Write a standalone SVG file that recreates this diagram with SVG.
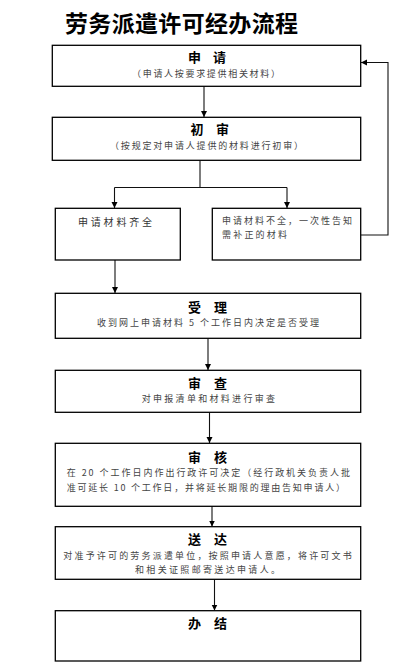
<svg xmlns="http://www.w3.org/2000/svg" width="407" height="671" viewBox="0 0 407 671">
<style>
.box{fill:#fff;stroke:#000;stroke-width:1.3}
.t{font-family:"Noto Sans CJK SC","Noto Sans",sans-serif;font-size:13px;font-weight:bold;fill:#000}
.s{font-family:"Noto Sans CJK SC","Noto Sans",sans-serif;font-size:9px;fill:#444}
.m{font-family:"Noto Sans CJK SC","Noto Sans",sans-serif;font-size:10px;fill:#333}
.ln{fill:none;stroke:#111;stroke-width:1.1}
</style>
<defs>
<marker id="ah" viewBox="0 0 10 10" refX="10" refY="5" markerWidth="6" markerHeight="7" markerUnits="userSpaceOnUse" orient="auto">
<path d="M0,0 L10,5 L0,10 z" fill="#000"/>
</marker>
</defs>
<rect width="407" height="671" fill="#fff"/>
<text x="65" y="32" textLength="233" lengthAdjust="spacing" style="font-family:'Noto Sans CJK SC',sans-serif;font-size:23px;font-weight:bold;fill:#000">劳务派遣许可经办流程</text>

<g id="connectors">
<line class="ln" x1="204" y1="86" x2="204" y2="117" marker-end="url(#ah)"/>
<polyline class="ln" points="200,160.5 200,187.5"/>
<polyline class="ln" points="114.5,187.5 287,187.5"/>
<line class="ln" x1="114.5" y1="187.5" x2="114.5" y2="208" marker-end="url(#ah)"/>
<line class="ln" x1="287" y1="187.5" x2="287" y2="208" marker-end="url(#ah)"/>
<line class="ln" x1="115" y1="260" x2="115" y2="293" marker-end="url(#ah)"/>
<polyline class="ln" points="361,235 388,235 388,62.5 361,62.5" marker-end="url(#ah)"/>
<line class="ln" x1="208" y1="338.5" x2="208" y2="370" marker-end="url(#ah)"/>
<line class="ln" x1="209.5" y1="412.5" x2="209.5" y2="443" marker-end="url(#ah)"/>
<line class="ln" x1="212" y1="495" x2="212" y2="526.5" marker-end="url(#ah)"/>
<line class="ln" x1="214.5" y1="579.5" x2="214.5" y2="610.5" marker-end="url(#ah)"/>
</g>

<g id="n1">
<rect class="box" x="52.3" y="45.3" width="308.4" height="41"/>
<text class="t" x="188" y="62" textLength="38" lengthAdjust="spacing">申 请</text>
<text class="s" x="132" y="76.5" textLength="148" lengthAdjust="spacing">（申请人按要求提供相关材料）</text>
</g>

<g id="n2">
<rect class="box" x="52.3" y="117.3" width="308.4" height="43"/>
<text class="t" x="190.5" y="133.5" textLength="38.5" lengthAdjust="spacing">初 审</text>
<text class="s" x="110" y="149" textLength="193" lengthAdjust="spacing">（按规定对申请人提供的材料进行初审）</text>
</g>

<g id="n3">
<rect class="box" x="55.3" y="208.3" width="125" height="51.7"/>
<text class="m" x="78" y="225.5" textLength="74" lengthAdjust="spacing">申请材料齐全</text>
</g>

<g id="n4">
<rect class="box" x="212.3" y="208.3" width="148.4" height="51.7"/>
<text class="s" x="222" y="224" textLength="130" lengthAdjust="spacing">申请材料不全，一次性告知</text>
<text class="s" x="222" y="237.5" textLength="65" lengthAdjust="spacing">需补正的材料</text>
</g>

<g id="n5">
<rect class="box" x="55.3" y="293.3" width="305.4" height="45"/>
<text class="t" x="188" y="311.5" textLength="39" lengthAdjust="spacing">受 理</text>
<text class="s" x="97" y="325.5" textLength="222" lengthAdjust="spacing">收到网上申请材料 5 个工作日内决定是否受理</text>
</g>

<g id="n6">
<rect class="box" x="55.3" y="370.3" width="305.4" height="42"/>
<text class="t" x="188" y="388" textLength="39" lengthAdjust="spacing">审 查</text>
<text class="s" x="141.7" y="402" textLength="133.3" lengthAdjust="spacing">对申报清单和材料进行审查</text>
</g>

<g id="n7">
<rect class="box" x="55.3" y="443.3" width="305.4" height="63"/>
<text class="t" x="188" y="461.5" textLength="39" lengthAdjust="spacing">审 核</text>
<text class="s" x="66.7" y="476.3" textLength="283.3" lengthAdjust="spacing">在 20 个工作日内作出行政许可决定（经行政机关负责人批</text>
<text class="s" x="66.7" y="490.5" textLength="278.3" lengthAdjust="spacing">准可延长 10 个工作日，并将延长期限的理由告知申请人）</text>
</g>

<g id="n8">
<rect class="box" x="55.3" y="526.7" width="305.4" height="52.6"/>
<text class="t" x="188" y="544" textLength="39" lengthAdjust="spacing">送 达</text>
<text class="s" x="63.3" y="559" textLength="288.4" lengthAdjust="spacing">对准予许可的劳务派遣单位，按照申请人意愿，将许可文书</text>
<text class="s" x="135" y="573" textLength="145" lengthAdjust="spacing">和相关证照邮寄送达申请人。</text>
</g>

<g id="n9">
<rect class="box" x="55.3" y="610.7" width="305.4" height="50.3"/>
<text class="t" x="188" y="628" textLength="39" lengthAdjust="spacing">办 结</text>
</g>
</svg>
